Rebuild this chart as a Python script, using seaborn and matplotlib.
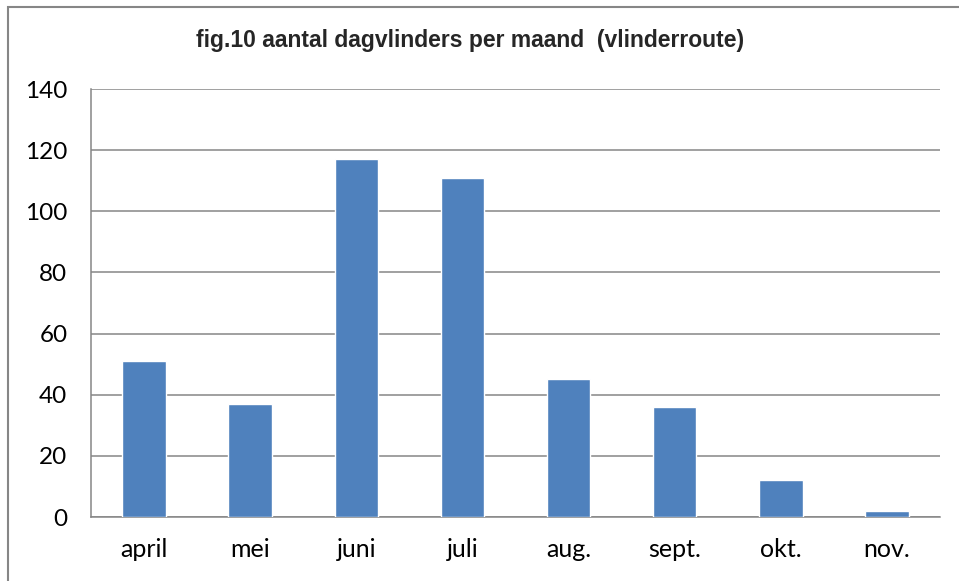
import matplotlib
matplotlib.use("Agg")
import matplotlib.pyplot as plt
from matplotlib.patches import Rectangle
import seaborn as sns
import pandas as pd
import numpy as np

# data
maanden = ["april", "mei", "juni", "juli", "aug.", "sept.", "okt.", "nov."]
aantallen = [51, 37, 117, 111, 45, 36, 12, 2]
y_ticks = [0, 20, 40, 60, 80, 100, 120, 140]

df = pd.DataFrame({"maand": maanden, "aantal": aantallen})

sns.set_style("white")
plt.rcParams["font.family"] = ["Lato", "DejaVu Sans"]

W, H = 959, 581
fig = plt.figure(figsize=(W / 100, H / 100), dpi=100)
ax = fig.add_axes([91 / W, (H - 517) / H, (940 - 91) / W, (517 - 89) / H])

grijs = "#868686"

sns.barplot(data=df, x="maand", y="aantal", color="#4F81BD", saturation=1,
            width=0.41, ax=ax, zorder=3)

ax.set_xlim(-0.5, len(maanden) - 0.5)
ax.set_ylim(0, 140)
ax.set_yticks(y_ticks)
ax.set_xlabel("")
ax.set_ylabel("")

# horizontal gridlines
ax.yaxis.grid(True, color=grijs, linewidth=1.1, zorder=0)
ax.xaxis.grid(False)

# ticks: category boundaries on x, labels centred
ax.set_xticks(np.arange(len(maanden)))
ax.set_xticklabels(maanden)
ax.set_xticks(np.arange(-0.5, len(maanden)), minor=True)
ax.tick_params(axis="x", which="major", length=0, pad=15, labelsize=18, labelcolor="black")
ax.tick_params(axis="x", which="minor", length=6, width=1.1, color=grijs, direction="out")
ax.tick_params(axis="y", length=6, width=1.1, color=grijs, direction="out", pad=11,
               labelsize=17.5, labelcolor="black")

for side in ["top", "right"]:
    ax.spines[side].set_visible(False)
for side in ["left", "bottom"]:
    ax.spines[side].set_color(grijs)
    ax.spines[side].set_linewidth(1.1)

fig.text(470 / W, 1 - 40 / H, "fig.10 aantal dagvlinders per maand  (vlinderroute)",
         ha="center", va="center", fontsize=16.5, fontweight="bold",
         family=["Liberation Sans", "DejaVu Sans"])

# chart border (cut off at right and bottom like the reference)
fig.patches.append(Rectangle((8 / W, -0.1), 1.2, 1 - 7 / H + 0.1, transform=fig.transFigure,
                             fill=False, edgecolor=grijs, linewidth=1.5))

fig.savefig("out.png", dpi=100)
